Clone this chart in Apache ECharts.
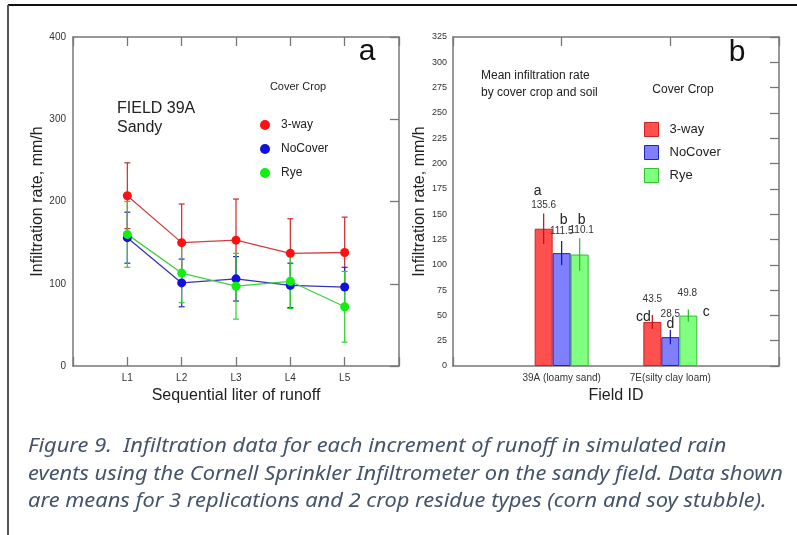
<!DOCTYPE html>
<html>
<head>
<meta charset="utf-8">
<script src="https://cdn.jsdelivr.net/npm/echarts@6/dist/echarts.min.js"></script>
<style>
  html, body { margin: 0; padding: 0; background: #fff; }
  #main { width: 797px; height: 535px; }
</style>
</head>
<body>
<div id="main"></div>
<script>
// panel a: infiltration per liter of runoff
const runoffLabels = ['L1', 'L2', 'L3', 'L4', 'L5'];
const a3way = [207, 150, 153, 137, 138];
const a3wayErr = [40, 47, 50, 42, 43];
const aNoCover = [156, 101, 106, 98, 96];
const aNoCoverErr = [31, 29, 27, 27, 24];
const aRye = [160, 113, 97, 103, 72];
const aRyeErr = [40, 36, 40, 33, 43];

// panel b: mean by cover crop and soil
const fieldLabels = ['39A (loamy sand)', '7E(silty clay loam)'];
const b3way = [135.6, 43.5];
const b3wayErr = [15, 7];
const bNoCover = [111.5, 28.5];
const bNoCoverErr = [12, 7];
const bRye = [110.1, 49.8];
const bRyeErr = [16, 6];
const b3wayLetters = ['a', 'cd'];
const bNoCoverLetters = ['b', 'd'];
const bRyeLetters = ['b', 'c'];

const chart = echarts.init(document.getElementById('main'), null, { renderer: 'canvas' });
const FONT = 'Liberation Sans, Arial, sans-serif';
const axisGray = '#777';

function pts(vals) {
  return vals.map((v, i) => [i + 1, v]);
}

// vertical error bar with caps (panel a)
function errSeries(vals, errs, color) {
  return {
    type: 'custom',
    xAxisIndex: 0, yAxisIndex: 0,
    z: 1,
    data: vals.map((v, i) => [i + 1, v, errs[i]]),
    renderItem: function (params, api) {
      const x = api.value(0), v = api.value(1), e = api.value(2);
      const hi = api.coord([x, v + e]);
      const lo = api.coord([x, v - e]);
      const st = { stroke: color, lineWidth: 1.2 };
      return {
        type: 'group',
        children: [
          { type: 'line', shape: { x1: hi[0], y1: hi[1], x2: lo[0], y2: lo[1] }, style: st },
          { type: 'line', shape: { x1: hi[0] - 3, y1: hi[1], x2: hi[0] + 3, y2: hi[1] }, style: st },
          { type: 'line', shape: { x1: lo[0] - 3, y1: lo[1], x2: lo[0] + 3, y2: lo[1] }, style: st }
        ]
      };
    }
  };
}

// error bars + value and letter labels on the bars (panel b)
function barErrSeries(vals, errs, letters, dx, color, numOff, letOff) {
  return {
    type: 'custom',
    xAxisIndex: 2, yAxisIndex: 2,
    z: 5,
    data: vals.map((v, i) => [i + 1, v, errs[i], i]),
    renderItem: function (params, api) {
      const x = api.value(0), v = api.value(1), e = api.value(2), k = api.value(3);
      const hi = api.coord([x, v + e]);
      const lo = api.coord([x, v - e]);
      const top = api.coord([x, v]);
      const cx = hi[0] + dx;
      return {
        type: 'group',
        children: [
          { type: 'line', shape: { x1: cx, y1: hi[1], x2: cx, y2: lo[1] }, style: { stroke: color, lineWidth: 1.2 } },
          { type: 'text', x: cx + numOff[k][0], y: top[1] + numOff[k][1],
            style: { text: String(vals[k]), font: '10px ' + FONT, fill: '#333', align: 'center', verticalAlign: 'middle' } },
          { type: 'text', x: cx + letOff[k][0], y: top[1] + letOff[k][1],
            style: { text: letters[k], font: '14px ' + FONT, fill: '#222', align: 'center', verticalAlign: 'middle' } }
        ]
      };
    }
  };
}

function lineSeries(name, vals, lineColor, dotColor) {
  return {
    name: name, type: 'line',
    xAxisIndex: 0, yAxisIndex: 0,
    data: pts(vals),
    symbol: 'circle', symbolSize: 9,
    lineStyle: { color: lineColor, width: 1.3 },
    itemStyle: { color: dotColor },
    z: 3
  };
}

function barSeries(name, vals, fill, border) {
  return {
    name: name, type: 'bar',
    xAxisIndex: 2, yAxisIndex: 2,
    data: vals.map((v, i) => [i + 1, v]),
    barWidth: 18, barGap: '0%',
    itemStyle: { color: fill, borderColor: border, borderWidth: 1 },
    z: 2
  };
}

const axLine = { show: true, onZero: false, lineStyle: { color: axisGray, width: 1.5 } };
const inTick = { show: true, inside: true, length: 9, lineStyle: { color: axisGray, width: 1.3 } };

const baseX = {
  type: 'value', interval: 1,
  axisLine: axLine,
  axisTick: inTick,
  splitLine: { show: false },
  axisLabel: { color: '#333', fontFamily: FONT, fontSize: 10, margin: 7 },
  nameTextStyle: { color: '#222', fontFamily: FONT, fontSize: 16 }
};

const option = {
  backgroundColor: '#fff',
  animation: false,
  grid: [
    { left: 73, top: 37, width: 326, height: 329 },
    { left: 453, top: 37, width: 326, height: 329 }
  ],
  xAxis: [
    Object.assign({}, baseX, {
      gridIndex: 0, min: 0, max: 6,
      name: 'Sequential liter of runoff', nameLocation: 'middle', nameGap: 22,
      axisLabel: Object.assign({}, baseX.axisLabel, {
        formatter: v => runoffLabels[v - 1] || ''
      })
    }),
    Object.assign({}, baseX, {
      gridIndex: 0, min: 0, max: 6, position: 'top',
      axisLabel: { show: false }
    }),
    Object.assign({}, baseX, {
      gridIndex: 1, min: 0, max: 3,
      name: 'Field ID', nameLocation: 'middle', nameGap: 22,
      axisLabel: Object.assign({}, baseX.axisLabel, {
        fontSize: 10,
        formatter: v => fieldLabels[v - 1] || ''
      })
    }),
    Object.assign({}, baseX, {
      gridIndex: 1, min: 0, max: 3, position: 'top',
      axisLabel: { show: false }
    })
  ],
  yAxis: [
    {
      type: 'value', gridIndex: 0, min: 0, max: 400, interval: 100,
      name: 'Infiltration rate, mm/h', nameLocation: 'middle', nameGap: 26,
      nameTextStyle: { color: '#222', fontFamily: FONT, fontSize: 16 },
      axisLine: axLine,
      axisTick: { show: false },
      splitLine: { show: false },
      axisLabel: { color: '#333', fontFamily: FONT, fontSize: 10, margin: 7 }
    },
    {
      type: 'value', gridIndex: 0, min: 0, max: 400, interval: 100, position: 'right',
      axisLine: axLine,
      axisTick: inTick,
      splitLine: { show: false },
      axisLabel: { show: false }
    },
    {
      type: 'value', gridIndex: 1, min: 0, max: 325, interval: 25,
      name: 'Infiltration rate, mm/h', nameLocation: 'middle', nameGap: 24,
      nameTextStyle: { color: '#222', fontFamily: FONT, fontSize: 16 },
      axisLine: axLine,
      axisTick: { show: false },
      splitLine: { show: false },
      axisLabel: { color: '#333', fontFamily: FONT, fontSize: 9, margin: 6 }
    },
    {
      type: 'value', gridIndex: 1, min: 0, max: 325, interval: 25, position: 'right',
      axisLine: axLine,
      axisTick: inTick,
      splitLine: { show: false },
      axisLabel: { show: false }
    }
  ],
  legend: [
    {
      left: 255, top: 114, orient: 'vertical',
      itemWidth: 10, itemHeight: 10, itemGap: 12,
      textStyle: { color: '#222', fontFamily: FONT, fontSize: 12, padding: [0, 0, 0, 6] },
      selectedMode: false,
      data: [
        { name: '3-way', icon: 'circle', itemStyle: { color: '#ff1010' } },
        { name: 'NoCover', icon: 'circle', itemStyle: { color: '#1010e0' } },
        { name: 'Rye', icon: 'circle', itemStyle: { color: '#10f010' } }
      ]
    },
    {
      left: 639, top: 117, orient: 'vertical',
      itemWidth: 14, itemHeight: 14, itemGap: 8,
      textStyle: { color: '#222', fontFamily: FONT, fontSize: 13, padding: [0, 0, 0, 6] },
      selectedMode: false,
      data: [
        { name: '3-way', icon: 'rect', itemStyle: { color: '#ff5050', borderColor: '#d02020', borderWidth: 1 } },
        { name: 'NoCover', icon: 'rect', itemStyle: { color: '#8080ff', borderColor: '#2020c0', borderWidth: 1 } },
        { name: 'Rye', icon: 'rect', itemStyle: { color: '#80ff80', borderColor: '#30c030', borderWidth: 1 } }
      ]
    }
  ],
  graphic: [
    // frame
    { type: 'line', shape: { x1: 8, y1: 5, x2: 797, y2: 5 }, style: { stroke: '#111', lineWidth: 2 } },
    { type: 'line', shape: { x1: 8, y1: 5, x2: 8, y2: 535 }, style: { stroke: '#555', lineWidth: 2 } },
    // panel a texts
    { type: 'text', x: 367, y: 52, style: { text: 'a', font: '30px ' + FONT, fill: '#111', align: 'center', verticalAlign: 'middle' } },
    { type: 'text', x: 117, y: 99, style: { text: 'FIELD 39A\nSandy', font: '16px ' + FONT, lineHeight: 19, fill: '#222' } },
    { type: 'text', x: 298, y: 87, style: { text: 'Cover Crop', font: '11px ' + FONT, fill: '#222', align: 'center', verticalAlign: 'middle' } },
    // panel b texts
    { type: 'text', x: 737, y: 53, style: { text: 'b', font: '30px ' + FONT, fill: '#111', align: 'center', verticalAlign: 'middle' } },
    { type: 'text', x: 481, y: 67, style: { text: 'Mean infiltration rate\nby cover crop and soil', font: '12px ' + FONT, lineHeight: 17, fill: '#222' } },
    { type: 'text', x: 683, y: 90, style: { text: 'Cover Crop', font: '12px ' + FONT, fill: '#222', align: 'center', verticalAlign: 'middle' } },
    // caption
    { type: 'text', x: 28, y: 433, scaleX: 1.15, style: {
      text: 'Figure 9.  Infiltration data for each increment of runoff in simulated rain\nevents using the Cornell Sprinkler Infiltrometer on the sandy field. Data shown\nare means for 3 replications and 2 crop residue types (corn and soy stubble).',
      font: 'italic 19px "Noto Sans", "Open Sans", sans-serif', lineHeight: 27.5, fill: '#44546a' } }
  ],
  series: [
    errSeries(a3way, a3wayErr, '#d02828'),
    errSeries(aNoCover, aNoCoverErr, '#2828c0'),
    errSeries(aRye, aRyeErr, '#30d030'),
    lineSeries('3-way', a3way, '#d04040', '#ff1010'),
    lineSeries('NoCover', aNoCover, '#3535b5', '#1010e0'),
    lineSeries('Rye', aRye, '#40d040', '#10f010'),
    barSeries('3-way', b3way, '#ff5050', '#d02020'),
    barSeries('NoCover', bNoCover, '#8080ff', '#2020c0'),
    barSeries('Rye', bRye, '#80ff80', '#30c030'),
    barErrSeries(b3way, b3wayErr, b3wayLetters, -18, '#c01010',
      [[0, -23], [0, -23]], [[-6, -38], [-9, -5]]),
    barErrSeries(bNoCover, bNoCoverErr, bNoCoverLetters, 0, '#1010c0',
      [[0, -22], [0, -23]], [[2, -33], [0, -13]]),
    barErrSeries(bRye, bRyeErr, bRyeLetters, 18, '#20c020',
      [[2, -24], [-1, -22]], [[2, -34], [18, -3]])
  ]
};

chart.setOption(option);
</script>
</body>
</html>
